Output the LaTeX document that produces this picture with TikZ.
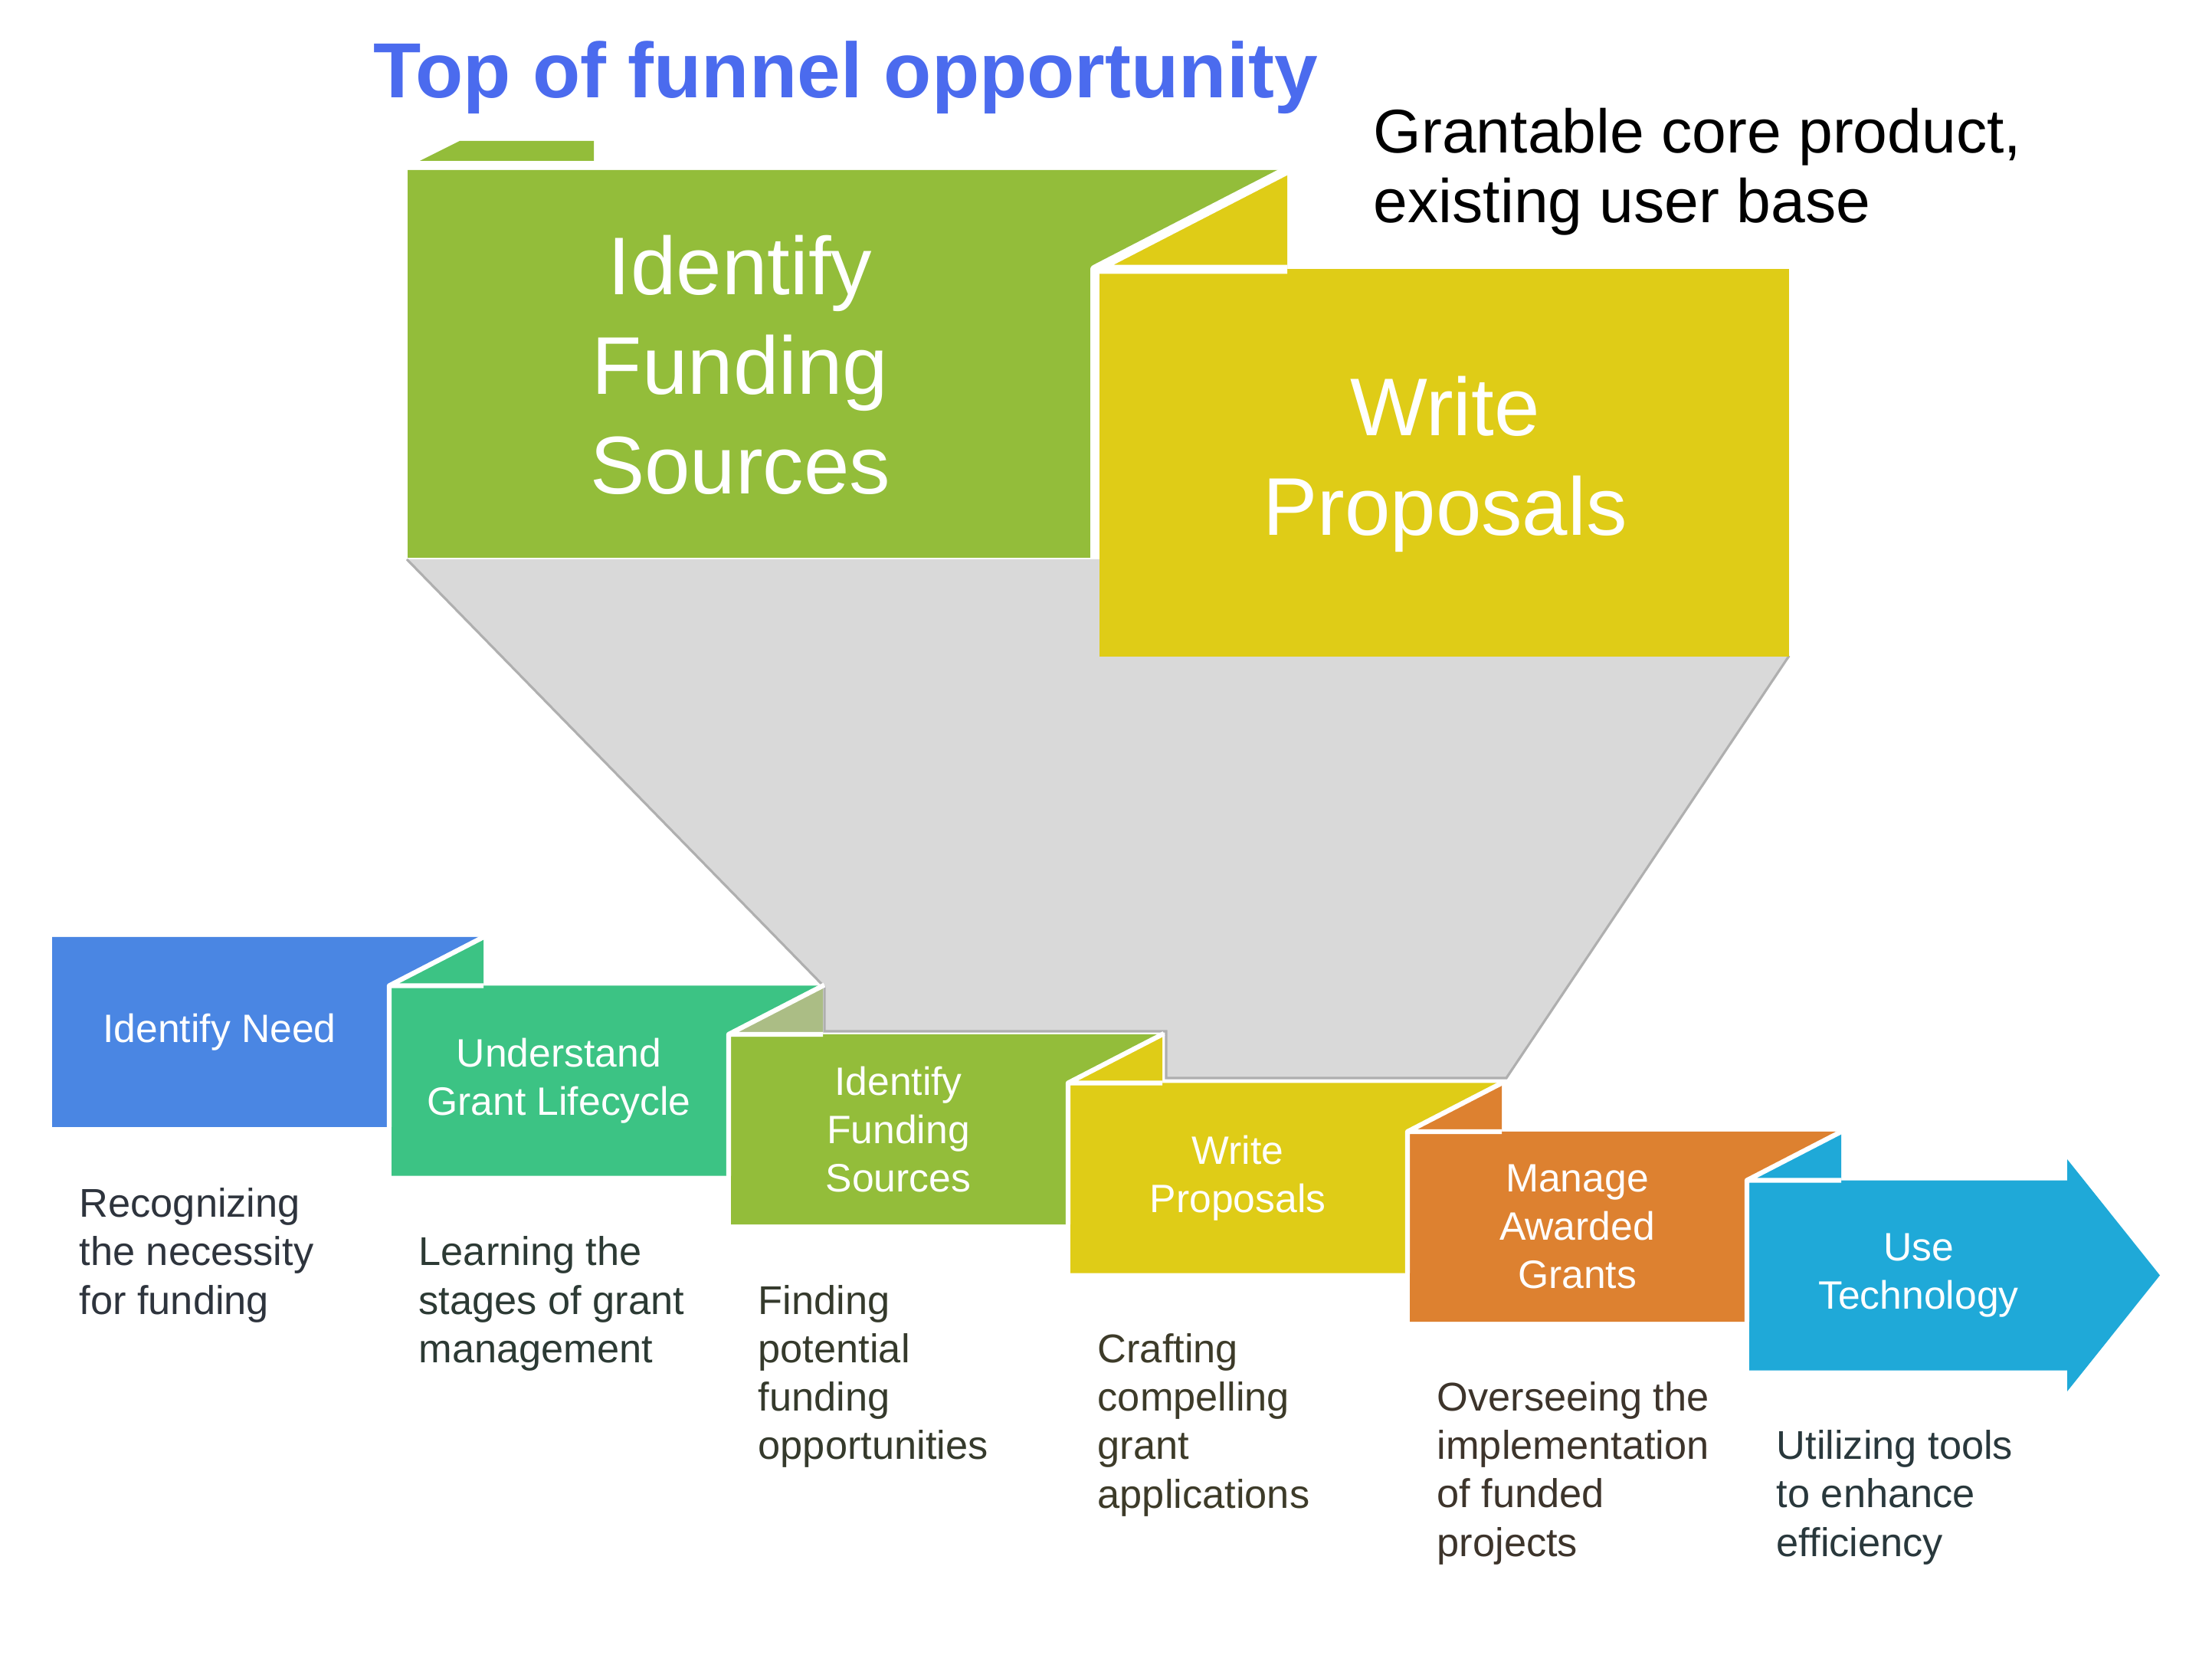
\documentclass[tikz,border=0pt]{standalone}
\usepackage{fontspec}
\setmainfont{Liberation Sans}
\definecolor{needblue}{RGB}{74,134,227}
\definecolor{cyclegreen}{RGB}{60,195,132}
\definecolor{sourceolive}{RGB}{147,189,58}
\definecolor{writeyellow}{RGB}{223,204,23}
\definecolor{awardorange}{RGB}{221,129,48}
\definecolor{techcyan}{RGB}{31,169,216}
\definecolor{mutedolive}{RGB}{171,189,133}
\definecolor{funnelgrey}{RGB}{217,217,217}
\definecolor{funneledge}{RGB}{175,175,175}
\definecolor{titleblue}{RGB}{75,107,238}
\tikzset{
    steptext/.style={text=white, align=center, font=\fontsize{14.7}{18}\selectfont},
    bigtext/.style={text=white, align=center, font=\fontsize{30.4}{37}\selectfont},
    desctext/.style={anchor=north west, align=left, inner sep=0pt, font=\fontsize{14.9}{18}\selectfont},
    fold/.style={white, line width=1.8pt, line join=round},
}

\begin{document}
\begin{tikzpicture}
    \useasboundingbox (0,0) rectangle (28.87,21.76);
    % funnel
    \fill[funnelgrey] (5.31,14.46) -- (14.40,14.46) -- (14.40,13.20) -- (23.35,13.20) -- (19.66,7.69) -- (15.22,7.69) -- (15.22,8.30) -- (10.76,8.30) -- (10.76,8.88) -- cycle;
    \draw[funneledge, line width=0.9pt] (5.31,14.46) -- (10.76,8.88) -- (10.76,8.30) -- (15.22,8.30) -- (15.22,7.69) -- (19.66,7.69) -- (23.35,13.20);
    % top of the funnel
    \fill[sourceolive] (5.48,19.66) -- (6.00,19.92) -- (7.75,19.92) -- (7.75,19.66) -- cycle;
    \fill[sourceolive] (5.32,19.54) -- (16.80,19.54) -- (14.23,18.245) -- (14.23,14.48) -- (5.32,14.48) -- cycle;
    \fill[writeyellow] (14.23,18.245) -- (16.80,19.54) -- (16.80,18.245) -- cycle;
    \fill[writeyellow] (14.35,18.245) rectangle (23.35,13.19);
    \draw[fold, line width=3.4pt] (14.29,14.48) -- (14.29,18.245) -- (16.80,18.245) (14.29,18.245) -- (16.84,19.56);
    % steps
    \fill[needblue] (0.68,9.53) -- (6.31,9.53) -- (5.05,8.895) -- (5.05,7.05) -- (0.68,7.05) -- cycle;
    \fill[cyclegreen] (5.05,8.895) -- (6.31,9.53) -- (6.31,8.895) -- cycle;
    \fill[cyclegreen] (5.11,8.895) -- (10.74,8.895) -- (9.48,8.26) -- (9.48,6.415) -- (5.11,6.415) -- cycle;
    \fill[mutedolive] (9.48,8.26) -- (10.74,8.895) -- (10.74,8.26) -- cycle;
    \fill[sourceolive] (9.54,8.26) -- (15.17,8.26) -- (13.91,7.625) -- (13.91,5.78) -- (9.54,5.78) -- cycle;
    \fill[writeyellow] (13.91,7.625) -- (15.17,8.26) -- (15.17,7.625) -- cycle;
    \fill[writeyellow] (13.97,7.625) -- (19.60,7.625) -- (18.34,6.99) -- (18.34,5.145) -- (13.97,5.145) -- cycle;
    \fill[awardorange] (18.34,6.99) -- (19.60,7.625) -- (19.60,6.99) -- cycle;
    \fill[awardorange] (18.40,6.99) -- (24.03,6.99) -- (22.77,6.355) -- (22.77,4.51) -- (18.40,4.51) -- cycle;
    \fill[techcyan] (22.77,6.355) -- (24.03,6.99) -- (24.03,6.355) -- cycle;
    \fill[techcyan] (22.83,6.355) -- (26.98,6.355) -- (26.98,6.63) -- (28.19,5.115) -- (26.98,3.60) -- (26.98,3.875) -- (22.83,3.875) -- cycle;
    % folds
    \draw[fold] (5.08,7.05) -- (5.08,8.895) -- (6.31,8.895) (5.08,8.895) -- (6.33,9.54);
    \draw[fold] (9.51,6.415) -- (9.51,8.26) -- (10.74,8.26) (9.51,8.26) -- (10.76,8.905);
    \draw[fold] (13.94,5.78) -- (13.94,7.625) -- (15.17,7.625) (13.94,7.625) -- (15.19,8.27);
    \draw[fold] (18.37,5.145) -- (18.37,6.99) -- (19.60,6.99) (18.37,6.99) -- (19.62,7.635);
    \draw[fold] (22.80,4.51) -- (22.80,6.355) -- (24.03,6.355) (22.80,6.355) -- (24.05,7.0);
    % labels
    \node[anchor=base west, inner sep=0pt, text=titleblue, font=\bfseries\fontsize{29}{35}\selectfont] (title) at (4.87,20.48) {Top of funnel opportunity};
    \node[anchor=north west, align=left, inner sep=0pt, font=\fontsize{22.9}{25.9}\selectfont] (product) at (17.92,20.36) {Grantable core product,\\existing user base};
    \node[bigtext] (bigsources) at (9.66,17.0) {Identify\\Funding\\Sources};
    \node[bigtext] (bigproposals) at (18.86,15.70) {Write\\Proposals};
    \node[steptext] (need) at (2.865,8.29) {Identify Need};
    \node[steptext] (lifecycle) at (7.295,7.655) {Understand\\Grant Lifecycle};
    \node[steptext] (sources) at (11.725,7.02) {Identify\\Funding\\Sources};
    \node[steptext] (proposals) at (16.155,6.385) {Write\\Proposals};
    \node[steptext] (grants) at (20.585,5.75) {Manage\\Awarded\\Grants};
    \node[steptext] (technology) at (25.04,5.115) {Use\\Technology};
    \node[desctext, text=needblue!12!black!85!white] (needtxt) at (1.03,6.26) {Recognizing\\the necessity\\for funding};
    \node[desctext, text=cyclegreen!12!black!85!white] (lifecycletxt) at (5.46,5.628) {Learning the\\stages of grant\\management};
    \node[desctext, text=sourceolive!12!black!85!white] (sourcestxt) at (9.89,4.996) {Finding\\potential\\funding\\opportunities};
    \node[desctext, text=writeyellow!12!black!85!white] (proposalstxt) at (14.32,4.364) {Crafting\\compelling\\grant\\applications};
    \node[desctext, text=awardorange!12!black!85!white] (grantstxt) at (18.75,3.732) {Overseeing the\\implementation\\of funded\\projects};
    \node[desctext, text=techcyan!12!black!85!white] (technologytxt) at (23.18,3.10) {Utilizing tools\\to enhance\\efficiency};
\end{tikzpicture}
\end{document}
